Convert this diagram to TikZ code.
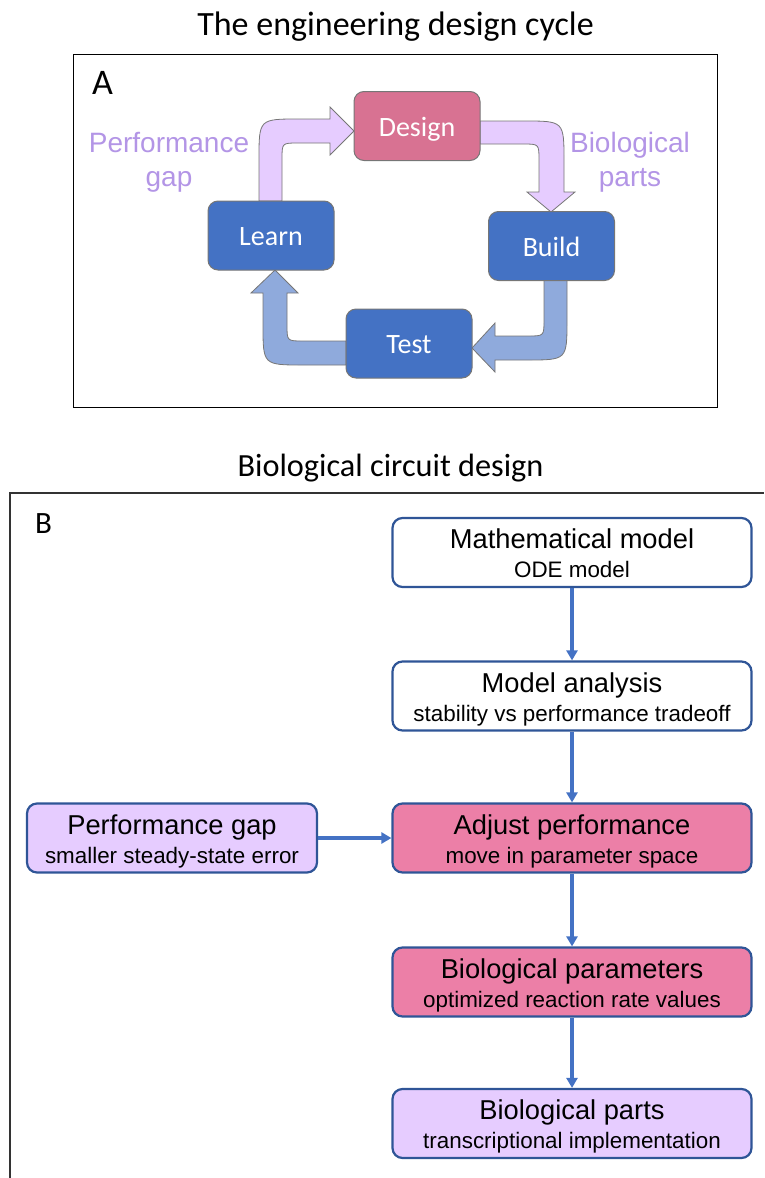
\documentclass[tikz,border=0pt]{standalone}
\usepackage{fontspec}
\setmainfont{Liberation Sans}
\newfontfamily\calibri{Carlito}
\usetikzlibrary{arrows.meta,calc}
\definecolor{designpink}{HTML}{D87292}
\definecolor{cycleblue}{HTML}{4472C4}
\definecolor{arrowlav}{HTML}{E6CCFF}
\definecolor{arrowblue}{HTML}{8FAADC}
\definecolor{boxgray}{HTML}{767676}
\definecolor{labelpurple}{HTML}{B395E6}
\definecolor{bborder}{HTML}{2F5597}
\definecolor{bpink}{HTML}{EC7FA7}
\definecolor{blav}{HTML}{E6CCFF}
\tikzset{
  cyc/.style={draw=boxgray, line width=1pt, rounded corners=10pt, text=white,
    font=\calibri\fontsize{28}{30}\selectfont, minimum width=126pt, minimum height=69pt,
    inner sep=0pt, text height=20pt, text depth=0pt},
  blk/.style={draw=boxgray, line width=0.8pt, line join=miter},
  bbox/.style={draw=bborder, line width=2.2pt, rounded corners=10pt,
    minimum width=359pt, minimum height=69pt, inner sep=0pt},
  ttl/.style={anchor=base, inner sep=0pt, font=\fontsize{27.3}{30}\selectfont},
  sub/.style={anchor=base, inner sep=0pt, font=\fontsize{22.4}{24}\selectfont},
  barrow/.style={draw=cycleblue, line width=3.2pt, -{Triangle[length=10pt,width=11pt]}},
  head/.style={anchor=base, inner sep=0pt, font=\calibri\fontsize{34}{36}\selectfont},
  sidelabel/.style={align=center, inner sep=0pt, text=labelpurple, font=\fontsize{28}{34}\selectfont},
}
\begin{document}
\begin{tikzpicture}[x=1pt,y=-1pt]
\useasboundingbox (0,0) rectangle (764,1178);

% ---------- Panel A ----------
\node[head] (titleA) at (395.5,35) {The engineering design cycle};
\draw[line width=1pt] (73,54) rectangle (717,407);
\node[anchor=base west, inner sep=0pt, font=\calibri\fontsize{36}{38}\selectfont] (labA) at (92,94) {A};

% block arrows
\draw[blk, fill=arrowlav] (259,201) -- (259,159) .. controls (259,119) .. (299,119) -- (330,119)
  -- (330,107) -- (354,131) -- (330,155) -- (330,143) -- (298,143)
  .. controls (282,143) .. (282,159) -- (282,201) -- cycle;
\draw[blk, fill=arrowlav] (480,121) -- (524,121) .. controls (564,121) .. (564,161) -- (564,192)
  -- (575,192) -- (551,212) -- (527,192) -- (539,192) -- (539,160)
  .. controls (539,144) .. (523,144) -- (480,144) -- cycle;
\draw[blk, fill=arrowblue] (544,280) -- (567,280) -- (567,320) .. controls (567,360) .. (527,360)
  -- (495,360) -- (495,372) -- (472,348) -- (495,323) -- (495,336) -- (528,336)
  .. controls (544,336) .. (544,320) -- cycle;
\draw[blk, fill=arrowblue] (346,341) -- (303,341) .. controls (287,341) .. (287,325) -- (287,293)
  -- (298,293) -- (275,270) -- (251,293) -- (263,293) -- (263,325)
  .. controls (263,365) .. (303,365) -- (346,365) -- cycle;

\node[cyc, fill=designpink] (design) at (417,126) {Design};
\node[cyc, fill=cycleblue] (build) at (551.5,246) {Build};
\node[cyc, fill=cycleblue] (test) at (409,343.5) {Test};
\node[cyc, fill=cycleblue] (learn) at (271,235.5) {Learn};

\node[sidelabel] (gapA) at (169,162) {Performance\\gap};
\node[sidelabel] (partsA) at (630,162) {Biological\\parts};

% ---------- Panel B ----------
\node[head, font=\calibri\fontsize{32.3}{36}\selectfont] (titleB) at (390.5,476) {Biological circuit design};
\draw[line width=1.5pt, draw=black!80] (10,1178) -- (10,493) -- (764,493);
\node[anchor=base west, inner sep=0pt, font=\calibri\fontsize{31}{34}\selectfont] (labB) at (35,533) {B};

\node[bbox, fill=white] (mm) at (572,552.5) {};
\node[bbox, fill=white] (ma) at (572,696) {};
\node[bbox, fill=bpink] (adj) at (572,838) {};
\node[bbox, fill=bpink] (bpar) at (572,982) {};
\node[bbox, fill=blav] (parts) at (572,1123.5) {};
\node[bbox, fill=blav, minimum width=290pt] (pg) at (172,838) {};

\foreach \n/\t/\s in {mm/Mathematical model/ODE model,
  ma/Model analysis/stability vs performance tradeoff,
  adj/Adjust performance/move in parameter space,
  bpar/Biological parameters/optimized reaction rate values,
  parts/Biological parts/transcriptional implementation,
  pg/Performance gap/smaller steady-state error}{
  \node[ttl] at ($(\n.north)+(0,32)$) {\t};
  \node[sub] at ($(\n.north)+(0,61)$) {\s};
}

\draw[barrow] (mm) -- (ma);
\draw[barrow] (ma) -- (adj);
\draw[barrow] (adj) -- (bpar);
\draw[barrow] (bpar) -- (parts);
\draw[barrow] (pg) -- (adj);
\end{tikzpicture}
\end{document}
